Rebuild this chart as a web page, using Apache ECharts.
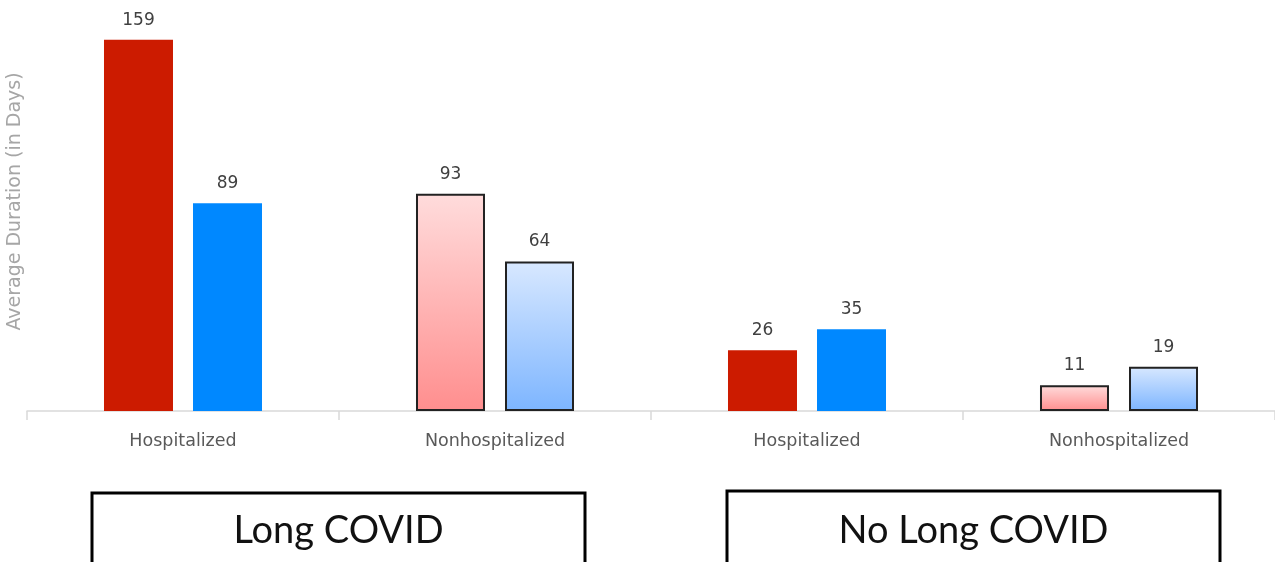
<!DOCTYPE html>
<html>
<head>
<meta charset="utf-8">
<script src="https://cdn.jsdelivr.net/npm/echarts@6/dist/echarts.min.js"></script>
<style>
  html, body { margin: 0; padding: 0; background: #ffffff; }
  #chart { width: 1275px; height: 562px; }
</style>
</head>
<body>
<div id="chart"></div>
<script>
// Average illness duration, in days, by hospitalization status
const categories = ['Hospitalized', 'Nonhospitalized', 'Hospitalized', 'Nonhospitalized'];
const groupLabels = ['Long COVID', 'No Long COVID'];
const redValues = [159, 93, 26, 11];
const blueValues = [89, 64, 35, 19];
const yAxisTitle = 'Average Duration (in Days)';

const solidRed = '#cc1b00';
const solidBlue = '#0088ff';
const smallFont = 'DejaVu Sans';

function grad(top, bottom) {
  return new echarts.graphic.LinearGradient(0, 0, 0, 1, [
    { offset: 0, color: top },
    { offset: 1, color: bottom }
  ]);
}

// Hospitalized bars are solid; nonhospitalized bars get a gradient and a dark outline
function styledData(values, solid, gradTop, gradBottom) {
  return values.map((v, i) => {
    if (categories[i] === 'Nonhospitalized') {
      return {
        value: v,
        itemStyle: { color: grad(gradTop, gradBottom), borderColor: '#222222', borderWidth: 2 }
      };
    }
    return { value: v, itemStyle: { color: solid } };
  });
}

const labelStyle = {
  show: true,
  position: 'top',
  distance: 11,
  fontFamily: smallFont,
  fontSize: 17,
  color: '#404040'
};

// Outlined caption box under each pair of categories
function groupBox(x, y, w, text) {
  return {
    type: 'group',
    children: [
      {
        type: 'rect',
        shape: { x: x, y: y, width: w, height: 90 },
        style: { fill: '#ffffff', stroke: '#000000', lineWidth: 3 }
      },
      {
        type: 'text',
        x: x + w / 2,
        y: 531,
        style: {
          text: text,
          fontFamily: 'Lato',
          fontSize: 38,
          fill: '#111111',
          align: 'center',
          verticalAlign: 'middle'
        }
      }
    ]
  };
}

const chart = echarts.init(document.getElementById('chart'));

chart.setOption({
  animation: false,
  backgroundColor: '#ffffff',
  grid: {
    left: 27, right: 0, top: 14, bottom: 151,
    containLabel: false,
    outerBoundsMode: 'none'
  },
  xAxis: {
    type: 'category',
    data: categories,
    axisLine: { show: true, lineStyle: { color: '#d9d9d9', width: 1.5 } },
    axisTick: { show: true, length: 9, lineStyle: { color: '#d9d9d9', width: 1.5 } },
    axisLabel: {
      margin: 21,
      fontFamily: smallFont,
      fontSize: 17.5,
      color: '#595959'
    }
  },
  yAxis: {
    type: 'value',
    min: 0,
    max: 170,
    name: yAxisTitle,
    nameLocation: 'middle',
    nameGap: 2,
    nameTextStyle: {
      fontFamily: smallFont,
      fontSize: 19,
      color: '#a6a6a6',
      padding: [0, 0, 0, 22]
    },
    axisLine: { show: false },
    axisTick: { show: false },
    axisLabel: { show: false },
    splitLine: { show: false }
  },
  series: [
    {
      name: 'Red',
      type: 'bar',
      barWidth: 69,
      barGap: '29%',
      data: styledData(redValues, solidRed, '#ffdcdc', '#ff8e8e'),
      label: labelStyle
    },
    {
      name: 'Blue',
      type: 'bar',
      barWidth: 69,
      barGap: '29%',
      data: styledData(blueValues, solidBlue, '#d8e8ff', '#7db5ff'),
      label: labelStyle
    }
  ],
  graphic: [
    groupBox(92, 493, 493, groupLabels[0]),
    groupBox(727, 491, 493, groupLabels[1])
  ]
});
</script>
</body>
</html>
